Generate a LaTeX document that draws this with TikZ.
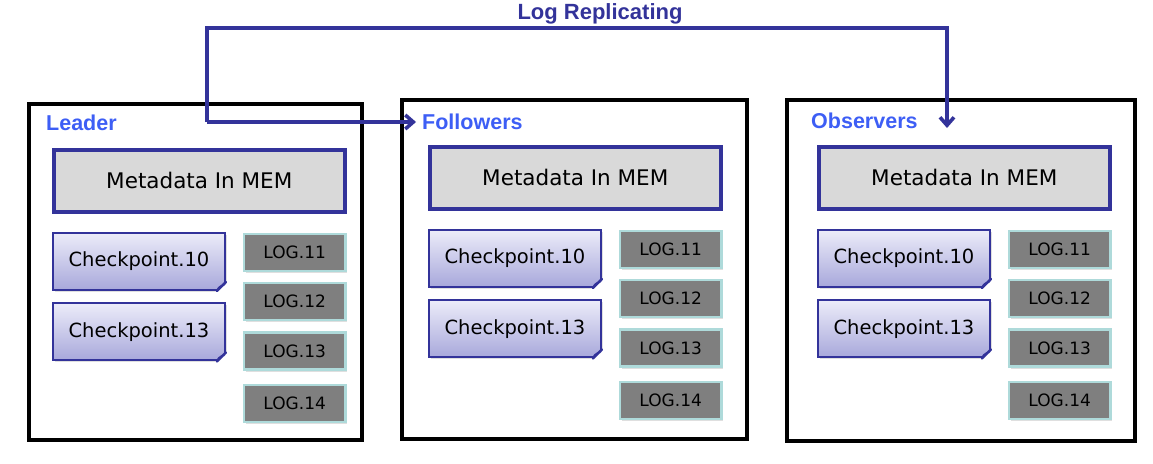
\documentclass[tikz,border=0pt]{standalone}
\usepackage{fontspec}
\setmainfont{DejaVu Sans}
\newfontfamily\headfont{Liberation Sans}
\usepackage{tikz}
\usetikzlibrary{positioning}
\usetikzlibrary{calc}
\usetikzlibrary{arrows.meta,shadows}

\definecolor{repblue}{HTML}{33339A}
\definecolor{tagblue}{HTML}{3D5EF5}
\definecolor{memgray}{HTML}{D9D9D9}
\definecolor{logfill}{HTML}{7F7F7F}
\definecolor{logline}{HTML}{AEDADA}
\definecolor{ckpttop}{HTML}{ECECF9}
\definecolor{ckptbot}{HTML}{A8A8DB}
\definecolor{foldcol}{HTML}{8C8CCF}

\begin{document}
\begin{tikzpicture}[x=1pt, y=-1pt,
  panel/.style={draw, line width=3.6pt, anchor=north west, inner sep=0pt},
  paneltag/.style={anchor=west, inner sep=0pt, text=tagblue, font=\headfont\bfseries\fontsize{21.5}{24}\selectfont},
  titletag/.style={inner sep=0pt, text=repblue, font=\headfont\bfseries\fontsize{22}{25}\selectfont},
  boxshadow/.style={drop shadow={opacity=0.25, shadow xshift=2pt, shadow yshift=-2pt}},
  membox/.style={draw=repblue, fill=memgray, line width=3.6pt, anchor=north west, minimum width=291pt, minimum height=62pt, inner sep=0pt, font=\fontsize{21.5}{24}\selectfont, boxshadow},
  ckptbox/.style={draw=repblue, line width=2.4pt, top color=ckpttop, bottom color=ckptbot, minimum width=171.5pt, minimum height=57pt, inner sep=0pt, font=\fontsize{19.5}{22}\selectfont, boxshadow},
  ckptfold/.style={draw=repblue, line width=2.4pt, fill=foldcol, line join=round},
  logbox/.style={draw=logline, fill=logfill, line width=2.4pt, minimum width=101.5pt, minimum height=37pt, inner sep=0pt, font=\fontsize{17}{20}\selectfont, boxshadow},
  reparrow/.style={draw=repblue, line width=3.6pt, -{Straight Barb[length=8pt,width=14pt]}}]

  \useasboundingbox (0,0) rectangle (1153,463);

  % leader
  \node[panel, minimum width=333pt, minimum height=336pt] (leader) at (27,102) {};
  \node[paneltag] (leadertag) at (46,123) {Leader};
  \node[membox] (leadermem) at (52,148) {Metadata In MEM};
  \node[ckptbox, below=18pt of leadermem.south west, anchor=north west] (leaderck10) {Checkpoint.10};
  \node[ckptbox, below=11pt of leaderck10] (leaderck13) {Checkpoint.13};
  \node[logbox, below=19pt of leadermem.south east, anchor=north east] (leaderlog11) {LOG.11};
  \node[logbox, below=10pt of leaderlog11] (leaderlog12) {LOG.12};
  \node[logbox, below=10pt of leaderlog12] (leaderlog13) {LOG.13};
  \node[logbox, below=13pt of leaderlog13] (leaderlog14) {LOG.14};

  % followers
  \node[panel, minimum width=345pt, minimum height=339pt] (followers) at (400,98) {};
  \node[paneltag] (followerstag) at (422,122) {Followers};
  \node[membox] (followersmem) at (428,145) {Metadata In MEM};
  \node[ckptbox, below=18pt of followersmem.south west, anchor=north west] (followersck10) {Checkpoint.10};
  \node[ckptbox, below=11pt of followersck10] (followersck13) {Checkpoint.13};
  \node[logbox, below=19pt of followersmem.south east, anchor=north east] (followerslog11) {LOG.11};
  \node[logbox, below=10pt of followerslog11] (followerslog12) {LOG.12};
  \node[logbox, below=10pt of followerslog12] (followerslog13) {LOG.13};
  \node[logbox, below=13pt of followerslog13] (followerslog14) {LOG.14};

  % observers
  \node[panel, minimum width=348pt, minimum height=341pt] (observers) at (785,98) {};
  \node[paneltag] (observerstag) at (811,121) {Observers};
  \node[membox] (observersmem) at (817,145) {Metadata In MEM};
  \node[ckptbox, below=18pt of observersmem.south west, anchor=north west] (observersck10) {Checkpoint.10};
  \node[ckptbox, below=11pt of observersck10] (observersck13) {Checkpoint.13};
  \node[logbox, below=19pt of observersmem.south east, anchor=north east] (observerslog11) {LOG.11};
  \node[logbox, below=10pt of observerslog11] (observerslog12) {LOG.12};
  \node[logbox, below=10pt of observerslog12] (observerslog13) {LOG.13};
  \node[logbox, below=13pt of observerslog13] (observerslog14) {LOG.14};

  % folded corners of the checkpoints
  \foreach \ck in {leaderck10,leaderck13,followersck10,followersck13,observersck10,observersck13} {
    \fill[white] ([xshift=-10pt,yshift=-2pt]\ck.south east) -- ([xshift=2pt,yshift=-2pt]\ck.south east) -- ([xshift=2pt,yshift=10pt]\ck.south east) -- cycle;
    \draw[ckptfold] ([xshift=-9pt]\ck.south east) -- ([yshift=9pt]\ck.south east) .. controls ([xshift=-3pt,yshift=4pt]\ck.south east) and ([xshift=-6pt,yshift=6pt]\ck.south east) .. cycle;
  }

  % log replicating
  \node[titletag] (reptitle) at (600,14) {Log Replicating};
  \coordinate (repstart) at (207,122);
  \coordinate (repend) at (947,128);
  \draw[reparrow] (repstart) -- ([xshift=-6pt]followerstag.west);
  \draw[reparrow] (repstart) -- ++(0,-94) -| (repend);
\end{tikzpicture}
\end{document}
